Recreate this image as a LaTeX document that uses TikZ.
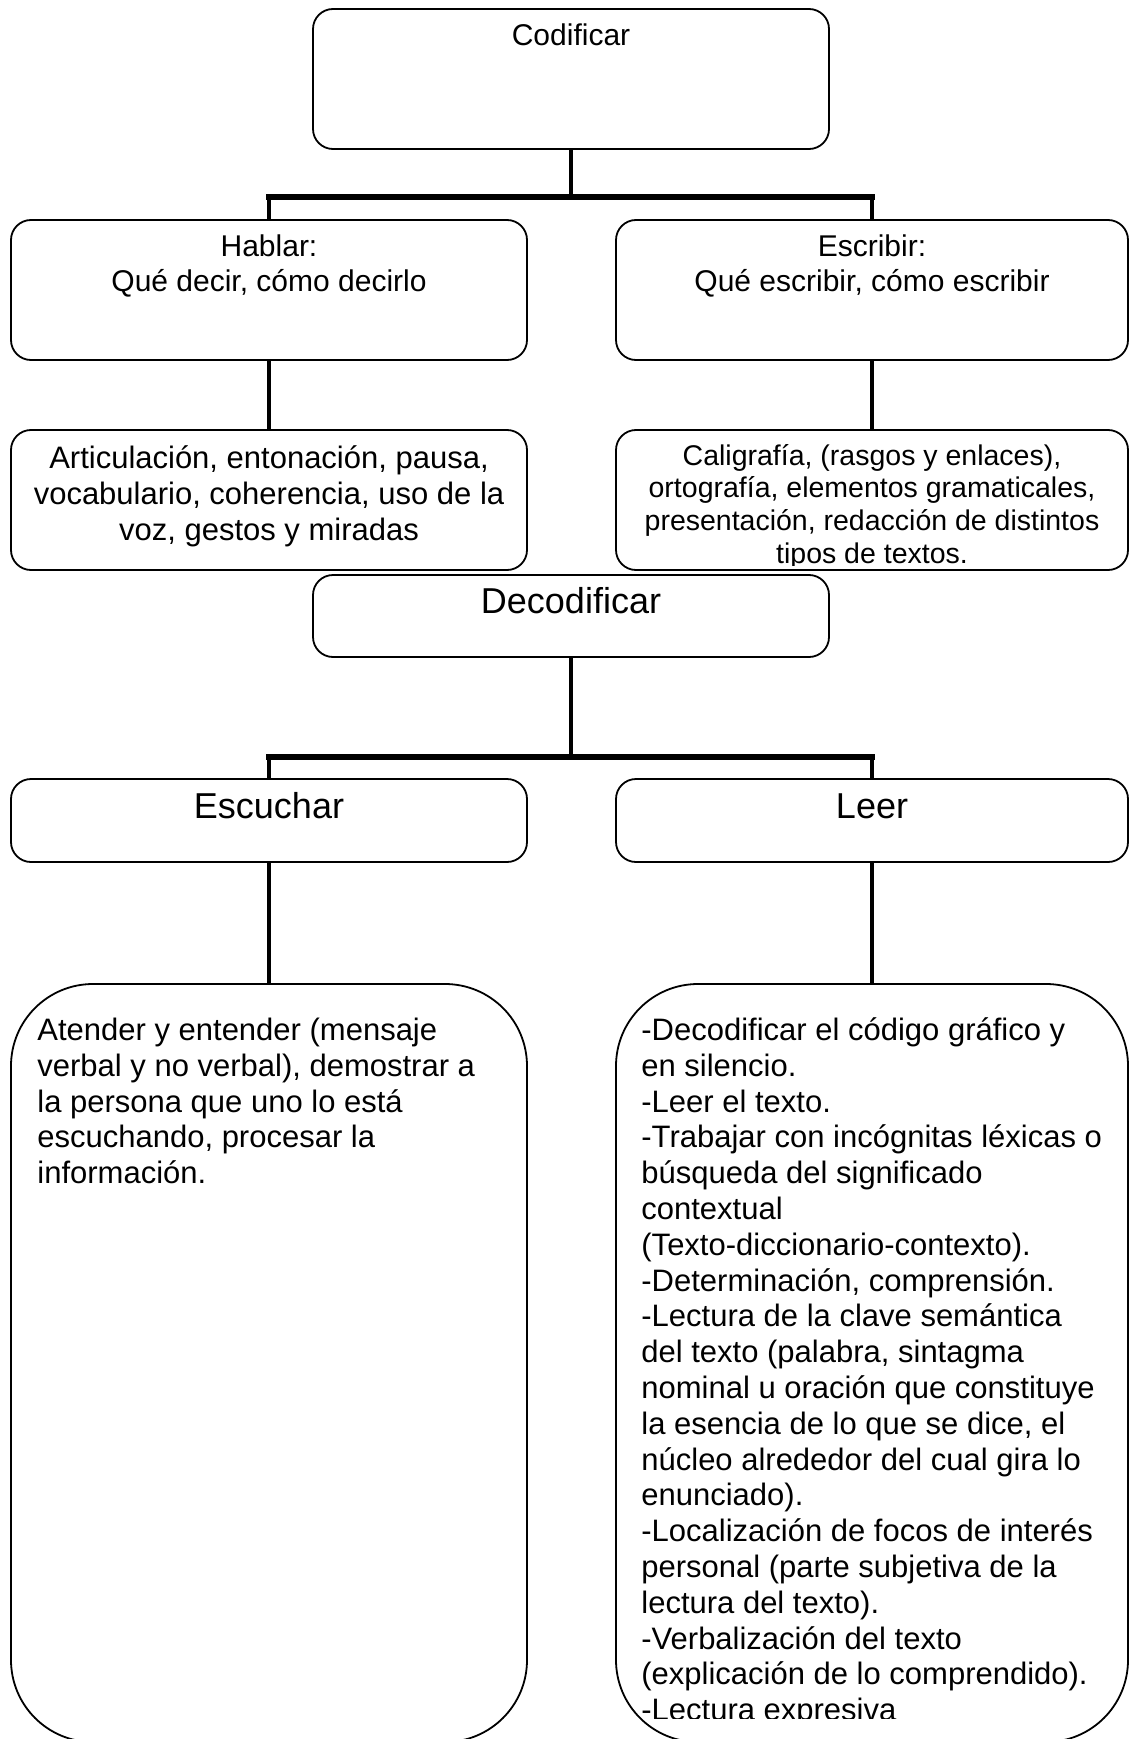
\documentclass[tikz,border=0pt]{standalone}
\usepackage{fontspec}
\setmainfont{Liberation Sans}
\begin{document}
\begin{tikzpicture}[x=0.5pt,y=-0.5pt,
  box/.style={draw, line width=0.9pt, rounded corners=10pt, inner sep=0pt, minimum width=258pt},
  bigbox/.style={draw, line width=0.9pt, rounded corners=41pt, inner sep=0pt, minimum width=258pt, minimum height=379pt},
  conn/.style={line width=2pt},
  bar/.style={line width=3pt, line cap=rect},
  txtA/.style={inner sep=0pt, align=center, font={\fontsize{15pt}{17.25pt}\selectfont}},
  txtB/.style={inner sep=0pt, align=center, font={\fontsize{15.5pt}{18pt}\selectfont}},
  txtC/.style={inner sep=0pt, align=center, font={\fontsize{14.25pt}{16.4pt}\selectfont}},
  txtD/.style={inner sep=0pt, align=center, font={\fontsize{18pt}{20.7pt}\selectfont}},
  txtE/.style={inner sep=0pt, align=left, font={\fontsize{15.5pt}{17.9pt}\selectfont}},
]
\useasboundingbox[fill=white] (0,0) rectangle (1130,1739);

% boxes
\node[box, minimum height=70pt] (cod) at (571,79) {};
\node[box, minimum height=70pt] (hab) at (269,290) {};
\node[box, minimum height=70pt, minimum width=256pt] (esc) at (872,290) {};
\node[box, minimum height=70pt] (art) at (269,500) {};
\node[box, minimum height=70pt, minimum width=256pt] (cal) at (872,500) {};
\node[box, minimum height=41pt] (dec) at (571,616) {};
\node[box, minimum height=41.5pt] (escu) at (269,820.5) {};
\node[box, minimum height=41.5pt, minimum width=256pt] (leer) at (872,820.5) {};
\node[bigbox] (aten) at (269,1363) {};
\node[bigbox, minimum width=256pt] (decg) at (872,1363) {};

% texts (multi-line nodes: base = baseline of the last line)
\node[txtA, anchor=base] (tcod) at (571,46) {Codificar};
\node[txtA, anchor=base] (thab) at (269,291.5) {Hablar:\\Qué decir, cómo decirlo};
\node[txtA, anchor=base] (tesc) at (872,291.5) {Escribir:\\Qué escribir, cómo escribir};
\node[txtB, anchor=base] (tart) at (269,540) {Articulación, entonación, pausa,\\vocabulario, coherencia, uso de la\\voz, gestos y miradas};
\begin{scope}
  \clip (616,431) rectangle (1128,565);
  \node[txtC, anchor=base] (tcal) at (872,563.4) {Caligrafía, (rasgos y enlaces),\\ortografía, elementos gramaticales,\\presentación, redacción de distintos\\tipos de textos.};
\end{scope}
\node[txtD, anchor=base] (tdec) at (571,613) {Decodificar};
\node[txtD, anchor=base] (tescu) at (269,818) {Escuchar};
\node[txtD, anchor=base] (tleer) at (872,818) {Leer};
\node[txtE, anchor=base west] (taten) at (37,1183.7) {Atender y entender (mensaje\\verbal y no verbal), demostrar a\\la persona que uno lo está\\escuchando, procesar la\\información.};
\begin{scope}
  \clip (600,990) rectangle (1128,1718);
  \node[txtE, anchor=base west] (tdecg) at (641,1720.7) {-Decodificar el código gráfico y\\en silencio.\\-Leer el texto.\\-Trabajar con incógnitas léxicas o\\búsqueda del significado\\contextual\\(Texto-diccionario-contexto).\\-Determinación, comprensión.\\-Lectura de la clave semántica\\del texto (palabra, sintagma\\nominal u oración que constituye\\la esencia de lo que se dice, el\\núcleo alrededor del cual gira lo\\enunciado).\\-Localización de focos de interés\\personal (parte subjetiva de la\\lectura del texto).\\-Verbalización del texto\\(explicación de lo comprendido).\\-Lectura expresiva};
\end{scope}

% connectors
\coordinate (j1) at (571,197);
\coordinate (j2) at (571,757);
\draw[conn] (cod.south) -- (j1);
\draw[conn] (j1 -| hab.north) -- (hab.north);
\draw[conn] (j1 -| esc.north) -- (esc.north);
\draw[bar] (j1 -| hab.north) -- (j1 -| esc.north);
\draw[conn] (hab.south) -- (art.north);
\draw[conn] (esc.south) -- (cal.north);
\draw[conn] (dec.south) -- (j2);
\draw[conn] (j2 -| escu.north) -- (escu.north);
\draw[conn] (j2 -| leer.north) -- (leer.north);
\draw[bar] (j2 -| escu.north) -- (j2 -| leer.north);
\draw[conn] (escu.south) -- (aten.north);
\draw[conn] (leer.south) -- (decg.north);
\end{tikzpicture}
\end{document}
